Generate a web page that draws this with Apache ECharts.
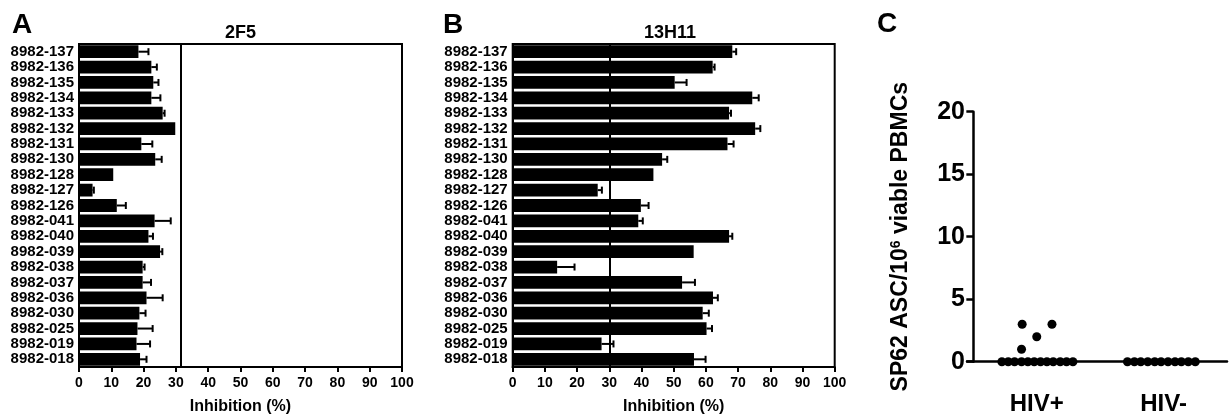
<!DOCTYPE html>
<html>
<head>
<meta charset="utf-8">
<script src="https://cdn.jsdelivr.net/npm/echarts@6/dist/echarts.min.js"></script>
<style>html,body{margin:0;padding:0;background:#fff}#c{width:1231px;height:420px}</style>
</head>
<body>
<div id="c"></div>
<script>
// ---- data ----
const categories = ['8982-137','8982-136','8982-135','8982-134','8982-133','8982-132','8982-131','8982-130','8982-128','8982-127','8982-126','8982-041','8982-040','8982-039','8982-038','8982-037','8982-036','8982-030','8982-025','8982-019','8982-018'];
const aValues = [18.4,22.4,23.0,22.4,25.9,29.8,19.3,23.6,10.6,4.2,11.7,23.4,21.5,25.1,19.7,19.7,20.9,18.7,18.1,17.8,18.9];
const aErrors = [3.1,1.7,1.6,2.8,0.6,0,3.4,2.0,0,0.4,2.8,5.0,1.4,0.7,0.6,2.6,5.0,1.9,4.7,4.2,2.0];
const aThreshold = 31.6;
const bValues = [68.2,62.1,50.3,74.4,67.2,75.3,66.7,46.4,43.7,26.4,39.8,39.0,67.2,56.2,13.8,52.6,62.2,59.0,60.2,27.6,56.3];
const bErrors = [1.2,0.6,3.7,2.0,0.6,1.6,1.9,1.6,0,1.3,2.4,1.4,1.0,0,5.4,4.0,1.5,1.9,1.7,3.7,3.6];
const bThreshold = 30;
const xTicks = [0,10,20,30,40,50,60,70,80,90,100];
const cGroupLabels = ['HIV+','HIV-'];
const cGroupPos = [1,3];
const hivPosX = [0.45,0.55,0.65,0.76,0.86,0.96,1.06,1.16,1.26,1.37,1.47,1.57,0.76,0.77,1.0,1.24];
const hivPosY = [0,0,0,0,0,0,0,0,0,0,0,0,1,3,2,3];
const hivNegX = [2.43,2.54,2.64,2.75,2.86,2.96,3.07,3.18,3.28,3.39,3.5];
const hivNegY = [0,0,0,0,0,0,0,0,0,0,0];
const cYTicks = [0,5,10,15,20];

// ---- chart ----
const FF = '"Liberation Sans", Arial, sans-serif';
const chart = echarts.init(document.getElementById('c'), null, {renderer:'canvas'});

function barAxisX(gi){
  return {
    type:'value', gridIndex:gi, min:xTicks[0], max:xTicks[xTicks.length-1], interval:xTicks[1]-xTicks[0],
    axisLine:{show:true, lineStyle:{color:'#000', width:2}},
    axisTick:{show:true, length:5, lineStyle:{color:'#000', width:2}},
    axisLabel:{color:'#000', fontFamily:FF, fontWeight:'bold', fontSize:14, margin:9},
    splitLine:{show:false},
    name:'Inhibition (%)', nameLocation:'middle', nameGap:32,
    nameTextStyle:{color:'#000', fontFamily:FF, fontWeight:'bold', fontSize:16}
  };
}
function barAxisY(gi){
  return {
    type:'category', gridIndex:gi, data:categories, inverse:true,
    axisLine:{show:true, lineStyle:{color:'#000', width:2}},
    axisTick:{show:false},
    axisLabel:{interval:0, color:'#000', fontFamily:FF, fontWeight:'bold', fontSize:15, margin:5},
    splitLine:{show:false}
  };
}
function errSeries(gi, vals, errs){
  return {
    type:'custom', xAxisIndex:gi, yAxisIndex:gi, z:5,
    data: vals.map((v,i)=>[v,i,errs[i]]),
    encode:{x:0, y:1},
    renderItem:function(params, api){
      const v = api.value(0), i = api.value(1), e = api.value(2);
      if(!e) return null;
      const p0 = api.coord([v, i]);
      const p1 = api.coord([v+e, i]);
      const h = 3.5;
      return {type:'group', children:[
        {type:'line', shape:{x1:p0[0], y1:p0[1], x2:p1[0], y2:p1[1]}, style:{stroke:'#000', lineWidth:2}},
        {type:'line', shape:{x1:p1[0], y1:p1[1]-h, x2:p1[0], y2:p1[1]+h}, style:{stroke:'#000', lineWidth:2}}
      ]};
    }
  };
}
function barSeries(gi, vals, thr){
  return {
    type:'bar', xAxisIndex:gi, yAxisIndex:gi, data:vals, barCategoryGap:'17%',
    itemStyle:{color:'#000'}, silent:true,
    markLine:{silent:true, symbol:'none', label:{show:false},
      lineStyle:{color:'#000', width:2, type:'solid'}, data:[{xAxis:thr}]}
  };
}

const option = {
  backgroundColor:'#fff',
  animation:false,
  grid:[
    {left:79, top:44, width:323, height:324, show:true, borderColor:'#000', borderWidth:2},
    {left:512.7, top:44, width:322, height:324, show:true, borderColor:'#000', borderWidth:2},
    {left:967, right:4, top:111.7, bottom:58.3}
  ],
  xAxis:[
    barAxisX(0), barAxisX(1),
    {type:'value', gridIndex:2, min:-0.1, max:4,
     axisLine:{show:true, onZero:true, lineStyle:{color:'#000', width:2.5}},
     axisTick:{show:false},
     axisLabel:{show:true, customValues:cGroupPos, color:'#000', fontFamily:FF, fontWeight:'bold', fontSize:24, margin:31,
       formatter:function(v){const k=cGroupPos.indexOf(v); return k>=0?cGroupLabels[k]:'';}},
     splitLine:{show:false}}
  ],
  yAxis:[
    barAxisY(0), barAxisY(1),
    {type:'value', gridIndex:2, min:cYTicks[0], max:cYTicks[cYTicks.length-1], interval:cYTicks[1]-cYTicks[0],
     axisLine:{show:true, onZero:true, lineStyle:{color:'#000', width:2.5}},
     axisTick:{show:true, length:7, lineStyle:{color:'#000', width:2.5}},
     axisLabel:{color:'#000', fontFamily:FF, fontWeight:'bold', fontSize:25, margin:2},
     splitLine:{show:false},
     name:'SP62 ASC/10{s|6} viable PBMCs', nameLocation:'middle', nameGap:54, nameRotate:90,
     nameTextStyle:{color:'#000', fontFamily:FF, fontWeight:'bold', fontSize:23,
       rich:{s:{fontSize:14, fontFamily:FF, fontWeight:'bold', color:'#000', verticalAlign:'top', padding:[0,0,10,0]}}}}
  ],
  series:[
    barSeries(0, aValues, aThreshold), errSeries(0, aValues, aErrors),
    barSeries(1, bValues, bThreshold), errSeries(1, bValues, bErrors),
    {type:'scatter', xAxisIndex:2, yAxisIndex:2, symbolSize:9, itemStyle:{color:'#000', opacity:1},
     data: hivPosX.map((x,i)=>[x, hivPosY[i]]), clip:false, z:6},
    {type:'scatter', xAxisIndex:2, yAxisIndex:2, symbolSize:9, itemStyle:{color:'#000', opacity:1},
     data: hivNegX.map((x,i)=>[x, hivNegY[i]]), clip:false, z:6}
  ],
  graphic:[
    {type:'text', x:22, y:25, style:{text:'A', fill:'#000', font:'bold 28px '+FF, textAlign:'center', textVerticalAlign:'middle'}},
    {type:'text', x:240.5, y:33, style:{text:'2F5', fill:'#000', font:'bold 18px '+FF, textAlign:'center', textVerticalAlign:'middle'}},
    {type:'text', x:453, y:25, style:{text:'B', fill:'#000', font:'bold 28px '+FF, textAlign:'center', textVerticalAlign:'middle'}},
    {type:'text', x:670, y:33, style:{text:'13H11', fill:'#000', font:'bold 18px '+FF, textAlign:'center', textVerticalAlign:'middle'}},
    {type:'text', x:887, y:24, style:{text:'C', fill:'#000', font:'bold 28px '+FF, textAlign:'center', textVerticalAlign:'middle'}}
  ]
};
chart.setOption(option);
</script>
</body>
</html>
